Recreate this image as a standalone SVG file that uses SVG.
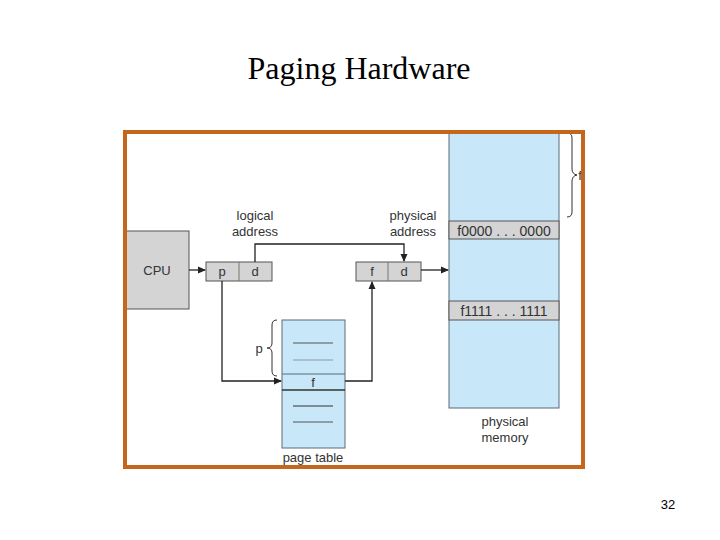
<svg xmlns="http://www.w3.org/2000/svg" width="720" height="540" viewBox="0 0 720 540">
<style>
.lbl{font-family:"Liberation Sans",Arial,sans-serif;font-size:13px;fill:#333;text-anchor:middle}
.row{font-family:"Liberation Sans",Arial,sans-serif;font-size:14px;fill:#333;text-anchor:middle}
.box{fill:#d4d4d4;stroke:#555;stroke-width:1}
.blue{fill:#c8e7f8;stroke:#5a6a78;stroke-width:1}
.ln{fill:none;stroke:#222;stroke-width:1.3}
.br{fill:none;stroke:#333;stroke-width:1}
</style>
<defs>
<marker id="ah" markerWidth="8" markerHeight="8" refX="7" refY="4" orient="auto" markerUnits="userSpaceOnUse">
<path d="M0,0.5 L8,4 L0,7.5 Z" fill="#222"/>
</marker>
</defs>
<rect width="720" height="540" fill="#fff"/>
<text x="359" y="79" font-family="'Liberation Serif','Times New Roman',serif" font-size="32" text-anchor="middle" fill="#000">Paging Hardware</text>

<g id="memory">
<rect class="blue" x="449" y="132" width="110" height="276"/>
<rect class="box" x="449" y="221" width="110" height="18" stroke="#8a8a8a"/>
<rect class="box" x="449" y="301" width="110" height="19" stroke="#8a8a8a"/>
<text class="row" x="504" y="235.5">f0000 . . . 0000</text>
<text class="row" x="504" y="316">f1111 . . . 1111</text>
<path class="br" d="M567,133 q5,0 5,5 v31 q0,5 5,6 q-5,1 -5,6 v31 q0,5 -5,5"/>
<text class="lbl" x="580" y="180">f</text>
<text class="lbl" x="505" y="426">physical</text>
<text class="lbl" x="505" y="442">memory</text>
</g>

<g id="cpu">
<rect class="box" x="126" y="231" width="63" height="78"/>
<text class="lbl" x="157" y="275" font-size="14">CPU</text>
</g>

<g id="logical">
<rect class="box" x="206" y="262" width="66" height="19"/>
<line x1="239" y1="262" x2="239" y2="281" stroke="#777"/>
<text class="lbl" x="222" y="276">p</text>
<text class="lbl" x="255" y="276">d</text>
<text class="lbl" x="255" y="220">logical</text>
<text class="lbl" x="255" y="236">address</text>
</g>

<g id="physical">
<rect class="box" x="356" y="262" width="65" height="19"/>
<line x1="388" y1="262" x2="388" y2="281" stroke="#777"/>
<text class="lbl" x="372" y="276">f</text>
<text class="lbl" x="404" y="276">d</text>
<text class="lbl" x="413" y="220">physical</text>
<text class="lbl" x="413" y="236">address</text>
</g>

<g id="pagetable">
<rect class="blue" x="282" y="320" width="63" height="128"/>
<line x1="282" y1="374" x2="345" y2="374" stroke="#5a6a78"/>
<line x1="282" y1="390" x2="345" y2="390" stroke="#333" stroke-width="1.5"/>
<line x1="293" y1="343" x2="333" y2="343" stroke="#555"/>
<line x1="293" y1="360" x2="333" y2="360" stroke="#8899a6"/>
<line x1="293" y1="406" x2="333" y2="406" stroke="#333"/>
<line x1="293" y1="422" x2="333" y2="422" stroke="#555"/>
<text class="lbl" x="313" y="387">f</text>
<path class="br" d="M277,320 q-5,0 -5,5 v18 q0,5 -5,5 q5,0 5,5 v18 q0,5 5,5"/>
<text class="lbl" x="259" y="353">p</text>
<text class="lbl" x="313" y="462" font-size="12.5">page table</text>
</g>

<g id="connectors">
<line class="ln" x1="189" y1="270" x2="205" y2="270" marker-end="url(#ah)"/>
<polyline class="ln" points="255,262 255,244 404,244 404,261" marker-end="url(#ah)"/>
<line class="ln" x1="421" y1="270" x2="448" y2="270" marker-end="url(#ah)"/>
<polyline class="ln" points="222,281 222,381 281,381" marker-end="url(#ah)"/>
<polyline class="ln" points="345,381 372,381 372,282" marker-end="url(#ah)"/>
</g>

<rect x="125" y="132" width="458" height="335" fill="none" stroke="#c5661b" stroke-width="4"/>
<text x="668" y="509" font-family="'Liberation Sans',Arial,sans-serif" font-size="13" text-anchor="middle" fill="#000">32</text>
</svg>
